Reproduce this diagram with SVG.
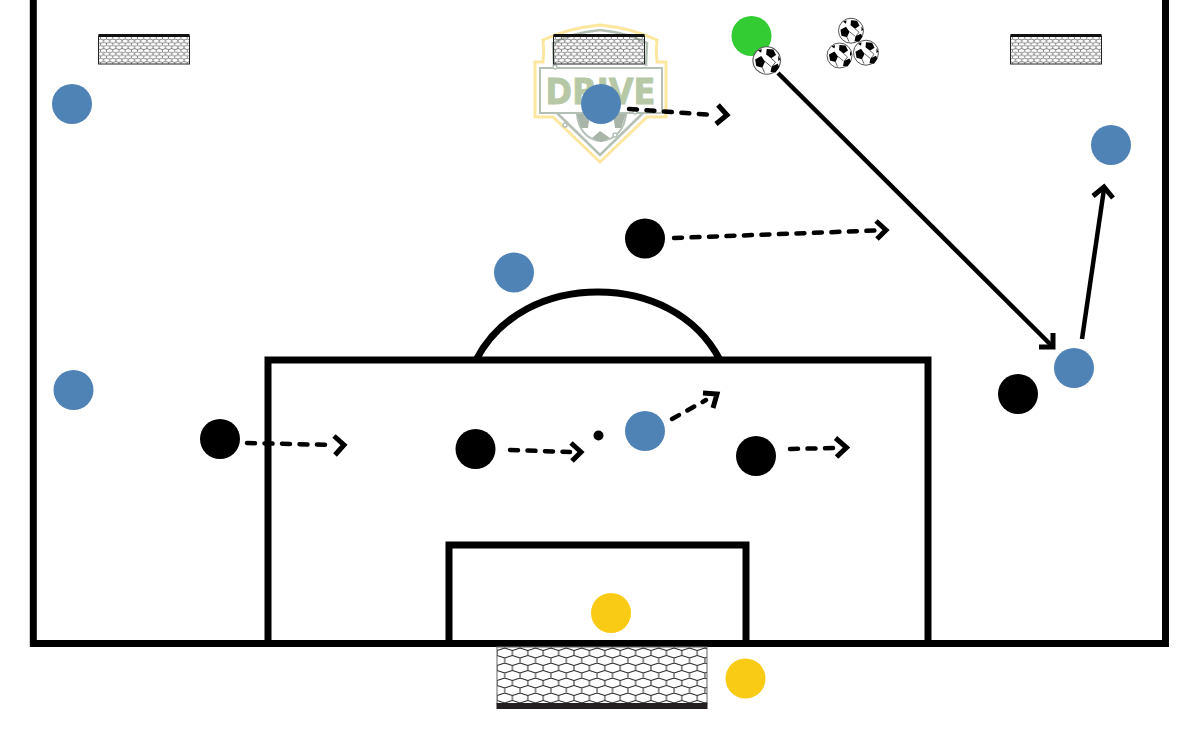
<svg xmlns="http://www.w3.org/2000/svg" width="1200" height="750" viewBox="0 0 1200 750">
<style>
.field{fill:none;stroke:#000;stroke-width:7}
.blue{fill:#4f83b6}.black{fill:#000}.yellow{fill:#facb14}.green{fill:#33cc33}
.solid,.dash,.head{fill:none;stroke:#000;stroke-width:4.500}
.dash{stroke-dasharray:8 9.500;stroke-linecap:round}
.head{stroke-width:5}
</style>
<defs>
<pattern id="hexL" width="15.4" height="15" patternUnits="userSpaceOnUse" x="497" y="648">
<path d="M0 2.500L7.700 0L15.400 2.500M0 2.500V7.500M15.400 2.500V7.500M0 7.500L7.700 10L15.400 7.500M7.700 10V15" fill="none" stroke="#222" stroke-width="1"/>
</pattern>
<pattern id="hexS" width="6.2" height="6.4" patternUnits="userSpaceOnUse" x="98" y="37">
<path d="M0 1L3.100 0L6.200 1M0 1V3.200M6.200 1V3.200M0 3.200L3.100 4.200L6.200 3.200M3.100 4.200V6.400" fill="none" stroke="#555" stroke-width=".7"/>
</pattern>
<g id="ball">
<circle r="12.500" fill="#fff" stroke="#555" stroke-width="1"/>
<path d="M0-10.500L6-10L8.500-5L4-2L-.5-5.500Z" fill="#000"/>
<path d="M-10.500-1L-5-4L-1.500 1L-4 6.500L-9.500 5Z" fill="#000"/>
<path d="M4.500 5.500L10 3L11.500 6L8 11L3.500 10.500Z" fill="#000"/>
<path d="M-8-9L-4.500-10.500L-5-7ZM10.500-4.500L12.300-1L10.500 .5Z" fill="#000"/>
<path d="M4-2L8 1.500L5 5.500M-1.500 1L4 5.500M-4 6.500L-2 11" stroke="#000" stroke-width=".6" fill="none"/>
</g>
<g id="goalSmall">
<rect x="0" y="2" width="91" height="28" fill="url(#hexS)" stroke="#222" stroke-width="1"/>
<rect x="0" y="0" width="91" height="3" fill="#111"/>
</g>
</defs>

<g id="logo">
<path d="M600 25C580 27 562 31 543 40C544 47 544 54 543 62H535V117H553L600 162L647 117H666V62H657C656 54 656 47 657 40C638 31 620 27 600 25Z" fill="#fff" stroke="#fde79f" stroke-width="3"/>
<path d="M600 30C582 32 568 35 553 43L554 66M646 66L647 43C632 35 618 32 600 30M557 113L600 155L643 113" fill="none" stroke="#b4c0b6" stroke-width="2.500"/>
<rect x="540" y="68" width="122" height="45" fill="none" stroke="#b4c0b6" stroke-width="2"/>
<text x="600.500" y="103.500" text-anchor="middle" font-family="'DejaVu Sans',sans-serif" font-weight="bold" font-size="36" textLength="110" lengthAdjust="spacingAndGlyphs" fill="#b6c8a5" stroke="#b6c8a5" stroke-width=".8">DRIVE</text>
<path d="M577 114C578 128 586 140 601 141C616 140 625 128 626 114" fill="none" stroke="#b4c0b6" stroke-width="2"/>
<path d="M577 114L590 114L588 128L581 128ZM626 114L613 114L615 128L621 128ZM592 138L600 131L610 138L601 142Z" fill="#a9b5a9"/>
<g fill="#fff" stroke="#b4c0b6" stroke-width="1.500"><circle cx="565" cy="125" r="2"/><circle cx="615" cy="135" r="2"/><circle cx="635" cy="112" r="2"/><circle cx="555" cy="67" r="2"/></g>
</g>

<g id="pitch">
<path class="field" d="M33.300 0V643.500H1165.500V0"/>
<rect class="field" x="268" y="360" width="660" height="283.500"/>
<rect class="field" x="449" y="545" width="297" height="98.500"/>
<path class="field" d="M476 360C500 314 548 292 598 292C648 292 696 314 720 360"/>
<circle cx="598.500" cy="435.500" r="5" fill="#000"/>
</g>

<g id="goals">
<use href="#goalSmall" x="98.500" y="34"/>
<use href="#goalSmall" x="553.500" y="34"/>
<use href="#goalSmall" x="1010.500" y="34"/>
<g id="goal-main">
<rect x="497" y="647" width="210" height="57" fill="url(#hexL)" stroke="#666" stroke-width="1"/>
<rect x="496.500" y="703" width="211" height="6" fill="#231f20"/>
</g>
</g>

<g id="connectors">
<path class="dash" d="M629 109L714 115"/><path class="head" d="M718 105L727 115L716 124"/>
<path class="dash" d="M674 238L876 230.500"/><path class="head" d="M876 221L886 230L877 239"/>
<path class="dash" d="M247 443L334 445"/><path class="head" d="M334 436L344 445L335 455"/>
<path class="dash" d="M510 450L570 452"/><path class="head" d="M571 443L581 452L572 461"/>
<path class="dash" d="M672 419L706 400"/><path class="head" d="M703 393L717 394L713 408"/>
<path class="dash" d="M790 449L835 448"/><path class="head" d="M835.500 438L846.500 447.500L836.500 457"/>
<path class="solid" d="M778 73L1052 346"/><path class="head" d="M1053 333L1053 347L1039 347"/>
<path class="solid" d="M1082 339L1104 189"/><path class="head" d="M1093 196L1104 187L1113 198"/>
</g>

<g id="players">
<circle id="p-blue-1" class="blue" cx="72" cy="104" r="20"/>
<circle id="p-blue-2" class="blue" cx="601" cy="104" r="20"/>
<circle id="p-blue-3" class="blue" cx="1111" cy="145" r="20"/>
<circle id="p-blue-4" class="blue" cx="514" cy="272.500" r="20"/>
<circle id="p-blue-5" class="blue" cx="73.500" cy="390" r="20"/>
<circle id="p-blue-6" class="blue" cx="1074" cy="368" r="20"/>
<circle id="p-blue-7" class="blue" cx="645" cy="431" r="20"/>
<circle id="p-black-1" class="black" cx="645" cy="238.500" r="20"/>
<circle id="p-black-2" class="black" cx="1018" cy="394" r="20"/>
<circle id="p-black-3" class="black" cx="220" cy="439" r="20"/>
<circle id="p-black-4" class="black" cx="475.500" cy="449" r="20"/>
<circle id="p-black-5" class="black" cx="756" cy="456" r="20"/>
<circle id="p-yellow-1" class="yellow" cx="611" cy="613" r="20"/>
<circle id="p-yellow-2" class="yellow" cx="745.500" cy="678.500" r="20"/>
<circle id="p-green" class="green" cx="751.500" cy="36" r="20"/>
</g>

<g id="balls">
<use href="#ball" transform="translate(766.700 60.500) scale(1.1)"/>
<use href="#ball" transform="translate(851 30.700)"/>
<use href="#ball" transform="translate(839.500 55.500)"/>
<use href="#ball" transform="translate(866 52.700)"/>
</g>
</svg>
